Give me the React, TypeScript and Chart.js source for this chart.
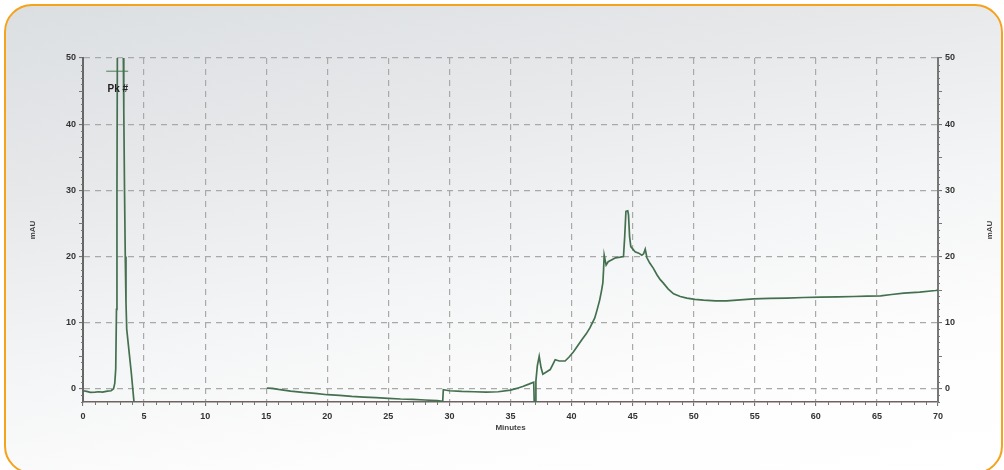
import React, { useEffect, useRef } from "react";
import { Chart, registerables } from "chart.js";

Chart.register(...registerables);

// ---- data ----
const xTicks = [0, 5, 10, 15, 20, 25, 30, 35, 40, 45, 50, 55, 60, 65, 70];
const yTicks = [0, 10, 20, 30, 40, 50];

// Segment 1: injection peak (0 – 4.2 min)
const peakTimes = [0, 0.3, 0.6, 1.0, 1.3, 1.6, 2.0, 2.3, 2.5, 2.6, 2.68, 2.74, 2.78, 2.82, 3.28, 3.34, 3.4, 3.46, 3.52, 3.58, 3.75, 3.95, 4.2];
const peakValues = [-0.3, -0.4, -0.55, -0.5, -0.45, -0.5, -0.35, -0.3, 0.0, 0.8, 3, 12, 30, 55, 55, 42, 30, 20, 13, 9, 6, 2.5, -2.5];

// Segment 2: gradient baseline and elution (15 – 70 min)
const traceTimes = [15.05, 15.5, 16, 17, 18, 19, 20, 21, 22, 23, 24, 25, 26, 27, 28, 29, 29.45, 29.5, 30, 31, 32, 33, 34, 35, 35.5, 36, 36.5, 36.9, 36.95, 37.02, 37.08, 37.2, 37.35, 37.5, 37.65, 38.0, 38.25, 38.5, 38.66, 39.0, 39.47, 39.8, 40.16, 40.5, 40.84, 41.2, 41.5, 41.9, 42.1, 42.3, 42.45, 42.56, 42.62, 42.67, 42.83, 43.0, 43.3, 43.6, 43.98, 44.25, 44.35, 44.45, 44.6, 44.66, 44.75, 44.85, 45.2, 45.5, 45.75, 45.9, 46.03, 46.17, 46.4, 46.7, 47.0, 47.26, 47.5, 47.9, 48.35, 48.9, 49.44, 50.1, 50.8, 51.8, 52.7, 53.8, 54.9, 56.2, 57.6, 59, 60.4, 61.8, 63.1, 64.2, 65.3, 66.2, 67.2, 68.5, 69.8, 70];
const traceValues = [0.1, 0.05, -0.1, -0.35, -0.55, -0.7, -0.9, -1.0, -1.15, -1.25, -1.35, -1.45, -1.55, -1.6, -1.7, -1.8, -1.9, -0.15, -0.3, -0.4, -0.45, -0.5, -0.45, -0.2, 0.05, 0.35, 0.7, 1.0, -2.5, -2.5, 1.2, 3.5, 4.9, 3.2, 2.2, 2.6, 2.9, 3.8, 4.4, 4.2, 4.2, 4.8, 5.6, 6.5, 7.4, 8.3, 9.2, 10.7, 12, 13.4, 14.8, 16, 18, 20.2, 18.7, 19.2, 19.5, 19.8, 19.9, 20, 23, 26.8, 26.9, 26.3, 23, 21.5, 20.7, 20.5, 20.2, 20.4, 21.1, 19.8, 19, 18.2, 17.2, 16.5, 16, 15.1, 14.35, 13.95, 13.7, 13.5, 13.4, 13.3, 13.3, 13.45, 13.6, 13.65, 13.7, 13.8, 13.85, 13.9, 13.95, 14.0, 14.05, 14.25, 14.45, 14.6, 14.85, 14.9];

// Peak marker ("Pk #")
const markerTimes = [1.9, 3.7];
const markerValues = [48, 48];
const markerLabel = "Pk #";
const markerLabelPos = { x: 2.85, y: 45.3 };

const xTitle = "Minutes";
const yTitle = "mAU";

const LINE = "#44704f";
const TICK_FONT = { family: "'Liberation Sans', Arial, sans-serif", size: 9, weight: "bold" as const };
const TITLE_FONT = { family: "'Liberation Sans', Arial, sans-serif", size: 8, weight: "bold" as const };

function toPoints(xs: number[], ys: (number | null)[]) {
  return xs.map((x, i) => ({ x, y: ys[i] }));
}

export default function App() {
  const ref = useRef<HTMLCanvasElement | null>(null);

  useEffect(() => {
    if (!ref.current) return;

    const extras = {
      id: "extras",
      afterDraw(chart: any) {
        const { ctx, chartArea, scales } = chart;
        const xs = scales.x;
        const yl = scales.y;
        ctx.save();
        // minor ticks
        ctx.strokeStyle = "#777";
        ctx.lineWidth = 1;
        ctx.beginPath();
        for (let m = 0; m <= 70; m++) {
          if (m % 5 === 0) continue;
          const px = Math.round(xs.getPixelForValue(m)) + 0.5;
          ctx.moveTo(px, chartArea.bottom);
          ctx.lineTo(px, chartArea.bottom + 3);
        }
        for (let v = -2; v <= 50; v++) {
          if (v % 10 === 0) continue;
          const py = Math.round(yl.getPixelForValue(v)) + 0.5;
          const len = v % 5 === 0 ? 4 : 2;
          ctx.moveTo(chartArea.left, py);
          ctx.lineTo(chartArea.left - len, py);
          ctx.moveTo(chartArea.right, py);
          ctx.lineTo(chartArea.right + len, py);
        }
        ctx.stroke();
        // peak label
        ctx.fillStyle = "#222";
        ctx.font = "bold 10px 'Liberation Sans', Arial, sans-serif";
        ctx.textAlign = "center";
        ctx.textBaseline = "middle";
        ctx.fillText(markerLabel, xs.getPixelForValue(markerLabelPos.x), yl.getPixelForValue(markerLabelPos.y));
        // right axis title (rotated same way as left)
        ctx.fillStyle = "#444";
        ctx.font = "bold 8px 'Liberation Sans', Arial, sans-serif";
        ctx.translate(990, (chartArea.top + chartArea.bottom) / 2);
        ctx.rotate(-Math.PI / 2);
        ctx.fillText(yTitle, 0, 0);
        ctx.restore();
      },
    };

    const gridCommon = {
      color: "#a9a9a9",
      lineWidth: 1.2,
      drawTicks: true,
      tickLength: 4,
      tickColor: "#666",
      tickWidth: 1,
    };

    const chart = new Chart(ref.current, {
      type: "line",
      data: {
        datasets: [
          {
            data: toPoints(peakTimes, peakValues),
            borderColor: LINE,
            borderWidth: 1.7,
            pointRadius: 0,
            tension: 0,
            spanGaps: false,
          },
          {
            data: toPoints(traceTimes, traceValues),
            borderColor: LINE,
            borderWidth: 1.7,
            pointRadius: 0,
            tension: 0,
            spanGaps: false,
          },
          {
            data: toPoints(markerTimes, markerValues),
            borderColor: "#5f8f6a",
            borderWidth: 1.2,
            pointRadius: 0,
            tension: 0,
            spanGaps: false,
          },
        ],
      },
      options: {
        animation: false,
        responsive: false,
        devicePixelRatio: 1,
        layout: { padding: { top: 58, left: 0, right: 0, bottom: 0 } },
        plugins: { legend: { display: false }, tooltip: { enabled: false } },
        scales: {
          x: {
            type: "linear",
            position: "bottom",
            min: 0,
            max: 70,
            afterBuildTicks: (s: any) => {
              s.ticks = xTicks.map((v) => ({ value: v }));
            },
            ticks: { font: TICK_FONT, color: "#333", padding: 5, maxRotation: 0 },
            grid: gridCommon,
            border: { display: true, color: "#6e6262", width: 1.6, dash: [6, 5] },
            title: { display: true, text: xTitle, font: TITLE_FONT, color: "#444", padding: { top: 0, bottom: 37 } },
            afterFit: (s: any) => {
              s.height = 68;
            },
          },
          y: {
            type: "linear",
            position: "left",
            min: -2,
            max: 50,
            afterBuildTicks: (s: any) => {
              s.ticks = yTicks.map((v) => ({ value: v }));
            },
            ticks: { font: TICK_FONT, color: "#333", padding: 3 },
            grid: gridCommon,
            border: { display: true, color: "#666", width: 2, dash: [6, 5] },
            title: { display: true, text: yTitle, font: TITLE_FONT, color: "#444", padding: { top: 28, bottom: 0 } },
            afterFit: (s: any) => {
              s.width = 83;
            },
          },
          y2: {
            type: "linear",
            position: "right",
            min: -2,
            max: 50,
            afterBuildTicks: (s: any) => {
              s.ticks = yTicks.map((v) => ({ value: v }));
            },
            ticks: { font: TICK_FONT, color: "#333", padding: 3 },
            grid: { ...gridCommon, drawOnChartArea: false },
            border: { display: true, color: "#777", width: 2 },
            afterFit: (s: any) => {
              s.width = 66;
            },
          },
        },
      },
      plugins: [extras],
    } as any);

    return () => chart.destroy();
  }, []);

  return (
    <div style={{ position: "fixed", left: 0, top: 0, width: 1004, height: 470, overflow: "hidden", background: "#ffffff" }}>
      <div
        style={{
          position: "absolute",
          left: 4,
          top: 4,
          width: 999,
          height: 470,
          boxSizing: "border-box",
          border: "2.5px solid #f5a31c",
          borderRadius: 28,
          background: "linear-gradient(168deg, #dcdfe2 0%, #e6e8ea 28%, #f4f5f6 55%, #fdfdfd 78%, #ffffff 100%)",
        }}
      />
      <canvas ref={ref} width={1004} height={470} style={{ position: "absolute", left: 0, top: 0, width: 1004, height: 470 }} />
    </div>
  );
}
